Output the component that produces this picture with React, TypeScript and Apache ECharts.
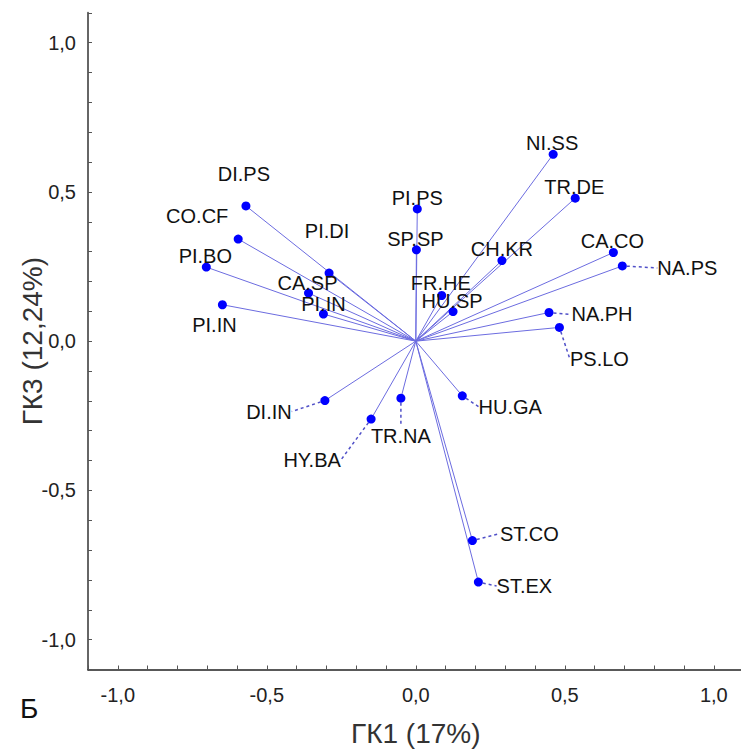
import React, { useEffect, useRef } from 'react';
import * as echarts from 'echarts';

// Variable names (loadings on canonical components)
const varNames = [
  'NI.SS', 'TR.DE', 'PI.PS', 'SP.SP', 'CH.KR', 'CA.CO', 'NA.PS', 'FR.HE',
  'HU.SP', 'NA.PH', 'PS.LO', 'DI.PS', 'CO.CF', 'PI.BO', 'PI.IN', 'PI.DI',
  'CA.SP', 'PI.IN', 'DI.IN', 'HY.BA', 'TR.NA', 'HU.GA', 'ST.CO', 'ST.EX',
];
// ГК1 values (x)
const gk1 = [
  0.461, 0.535, 0.005, 0.002, 0.289, 0.663, 0.693, 0.087,
  0.125, 0.447, 0.482, -0.570, -0.596, -0.703, -0.649, -0.291,
  -0.360, -0.310, -0.305, -0.150, -0.050, 0.156, 0.190, 0.210,
];
// ГК3 values (y)
const gk3 = [
  0.626, 0.479, 0.443, 0.306, 0.270, 0.297, 0.252, 0.153,
  0.099, 0.096, 0.046, 0.453, 0.342, 0.248, 0.122, 0.228,
  0.161, 0.091, -0.199, -0.261, -0.191, -0.183, -0.668, -0.807,
];
// Label placement (pixel shift of label centre from its point) – layout only
const labelShift: [number, number][] = [
  [-1, -11], [-1, -11], [0, -11], [-1, -11], [0, -12], [-1, -11], [65, 2], [-1, -12],
  [-1, -11], [53, 2], [40, 32], [-2, -32], [-41, -23], [-1, -11], [-8, 20], [-2, -42],
  [-1, -10], [0, -10], [-56, 11], [-59, 41], [0, 38], [48, 11], [57, -7], [46, 4],
];
// Which labels are tied to their point by a dotted leader – layout only
const hasLeader = [
  false, false, false, false, false, false, true, false,
  false, true, true, false, false, false, false, false,
  false, false, true, true, true, true, true, true,
];

const xTitle = 'ГК1 (17%)';
const yTitle = 'ГК3 (12,24%)';
const panelLetter = 'Б';

const FONT = "'Liberation Sans', Arial, sans-serif";

const fmt = (v: number) => {
  const r = Math.round(v * 10) / 10;
  if (Math.abs(r * 2 - Math.round(r * 2)) > 1e-6) return '';
  const z = Math.abs(r) < 1e-9 ? 0 : r;
  return z.toFixed(1).replace('.', ',');
};

export default function App() {
  const ref = useRef<HTMLDivElement>(null);
  useEffect(() => {
    const chart = echarts.init(ref.current!, null, { renderer: 'svg' });
    const axisCommon = {
      type: 'value',
      min: -1.1,
      max: 1.1,
      interval: 0.1,
      splitLine: { show: false },
      axisTick: { show: true, inside: true, length: 4, lineStyle: { color: '#555', width: 1 } },
      nameLocation: 'middle',
      nameMoveOverlap: false,
    };
    const option = {
      animation: false,
      backgroundColor: '#ffffff',
      grid: { left: 88, top: 12.8, width: 655.6, height: 656.7, containLabel: false, outerBoundsMode: 'none' },
      xAxis: {
        ...axisCommon,
        position: 'bottom',
        axisLine: { onZero: false, lineStyle: { color: '#222', width: 1.5 } },
        axisLabel: { formatter: fmt, fontSize: 20, color: '#222', margin: 15, fontFamily: FONT },
        name: xTitle,
        nameGap: 50,
        nameTextStyle: { fontSize: 28, color: '#333', fontFamily: FONT },
      },
      yAxis: {
        ...axisCommon,
        position: 'left',
        axisLine: { onZero: false, lineStyle: { color: '#666', width: 2 } },
        axisLabel: { formatter: fmt, fontSize: 20, color: '#222', margin: 12, fontFamily: FONT },
        name: yTitle,
        nameGap: 42,
        nameTextStyle: { fontSize: 28, color: '#333', fontFamily: FONT },
      },
      graphic: [
        {
          type: 'text',
          left: 20,
          top: 694,
          style: { text: panelLetter, fontSize: 28, fill: '#111', fontFamily: FONT },
        },
      ],
      series: [
        {
          type: 'lines',
          coordinateSystem: 'cartesian2d',
          silent: true,
          z: 1,
          lineStyle: { color: '#6c6ce0', width: 1, opacity: 1 },
          data: gk1.map((x, i) => ({ coords: [[0, 0], [x, gk3[i]]] })),
        },
        {
          type: 'scatter',
          z: 3,
          symbol: 'circle',
          symbolSize: 9,
          itemStyle: { color: '#0000ff', opacity: 1 },
          label: {
            show: true,
            position: 'inside',
            formatter: '{b}',
            fontSize: 20,
            color: '#111',
            fontFamily: FONT,
          },
          labelLine: { show: false, lineStyle: { type: [3, 3], color: '#5050c8', width: 1.5 } },
          labelLayout: (p: any) => ({ dx: labelShift[p.dataIndex][0], dy: labelShift[p.dataIndex][1] }),
          data: gk1.map((x, i) => ({
            name: varNames[i],
            value: [x, gk3[i]],
            labelLine: { show: hasLeader[i] },
          })),
        },
      ],
    };
    chart.setOption(option as any);
    return () => chart.dispose();
  }, []);
  return <div ref={ref} style={{ position: 'absolute', left: 0, top: 0, width: 741, height: 753 }} />;
}
